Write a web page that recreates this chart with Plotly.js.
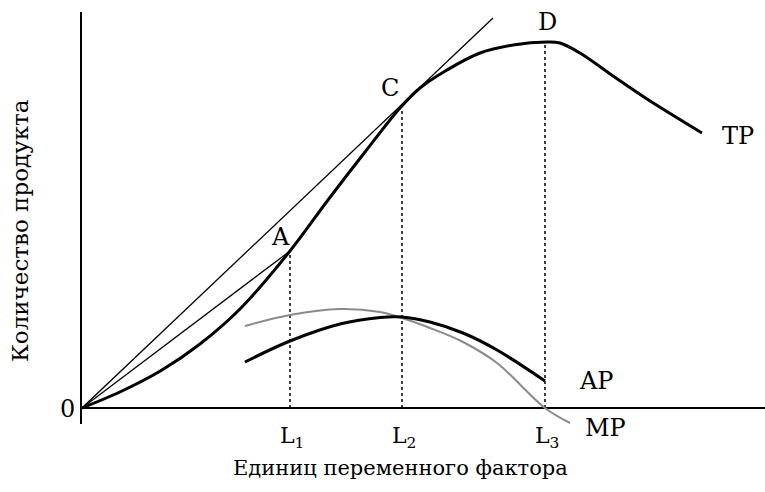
<!DOCTYPE html>
<html><head><meta charset="utf-8">
<script src="https://cdn.plot.ly/plotly-3.0.1.min.js"></script>
<style>body{margin:0;background:#fff}</style>
</head><body><div id="chart" style="width:765px;height:492px"></div>
<script>
// Total product (TP)
const tpX = [0, 40, 80, 118, 158, 208, 246, 283, 318, 338, 365, 398, 431, 465, 478, 498, 531, 565, 620];
const tpY = [0, 17, 38, 64, 99, 157, 208, 256, 300, 320, 338, 355, 363, 366, 365, 355, 332, 309, 275];
// Average product (AP)
const apX = [163, 208, 258, 298, 320, 348, 381, 415, 463];
const apY = [46, 67, 84, 90.5, 91, 86, 75, 58, 27];
// Marginal product (MP)
const mpX = [163, 208, 258, 298, 320, 348, 381, 415, 463, 488];
const mpY = [82, 93, 99, 96, 90, 80, 66, 45, 0, -15];
// Rays from origin
const rayAX = [0, 208], rayAY = [0, 157];
const tangX = [0, 411], tangY = [0, 390];
// Labour levels L1, L2, L3 and TP at those levels
const lX = [208, 320, 463];
const lTop = [157, 300, 366];
const lLabels = ['L<sub>1</sub>', 'L<sub>2</sub>', 'L<sub>3</sub>'];
const pointLabels = ['A', 'C', 'D'];
const curveLabels = ['TP', 'AP', 'MP'];

const XR = [0, 683], YR = [-16, 396];
const px = x => (x - XR[0]) / (XR[1] - XR[0]);
const py = y => (y - YR[0]) / (YR[1] - YR[0]);

const serif = 'DejaVu Serif, Liberation Serif, serif';
const traces = [];
lX.forEach((x, i) => traces.push({x: [x, x], y: [0, lTop[i]], mode: 'lines',
  line: {color: '#000', width: 1.5, dash: 'dot'}, hoverinfo: 'skip'}));
traces.push({x: tangX, y: tangY, mode: 'lines', line: {color: '#000', width: 1.3}});
traces.push({x: rayAX, y: rayAY, mode: 'lines', line: {color: '#000', width: 1.3}});
traces.push({x: mpX, y: mpY, mode: 'lines', line: {color: '#8a8a8a', width: 2, shape: 'spline'}});
traces.push({x: apX, y: apY, mode: 'lines', line: {color: '#000', width: 3, shape: 'spline'}});
traces.push({x: tpX, y: tpY, mode: 'lines', line: {color: '#000', width: 3, shape: 'spline'}});

const ann = [];
const f = {family: serif, size: 24, color: '#000'};
const lab = (x, y, t, extra) => ann.push(Object.assign({xref: 'paper', yref: 'paper', x: px(x), y: py(y),
  xanchor: 'center', yanchor: 'middle', text: t, showarrow: false, font: f}, extra || {}));
lab(198, 171, pointLabels[0]);
lab(308, 320, pointLabels[1]);
lab(465, 386, pointLabels[2]);
lab(656, 272, curveLabels[0]);
lab(514, 27, curveLabels[1]);
lab(523, -20, curveLabels[2]);
lab(-15, -1, '0');
lX.forEach((x, i) => lab(x + 2, -29, lLabels[i], {font: {family: serif, size: 22, color: '#000'}}));
lab(-62, 177, 'Количество продукта', {textangle: -90, font: {family: serif, size: 23, color: '#000'}});
lab(318, -60, 'Единиц переменного фактора', {font: {family: serif, size: 21, color: '#000'}});

Plotly.newPlot('chart', traces, {
  width: 765, height: 492, showlegend: false,
  margin: {l: 82, r: 0, t: 12, b: 68},
  paper_bgcolor: '#fff', plot_bgcolor: '#fff',
  xaxis: {range: XR, showgrid: false, showticklabels: false, ticks: '', zeroline: false, showline: false},
  yaxis: {range: YR, showgrid: false, showticklabels: false, ticks: '', zeroline: true,
    zerolinecolor: '#000', zerolinewidth: 2, showline: true, linecolor: '#000', linewidth: 2},
  annotations: ann
}, {displayModeBar: false, staticPlot: true});
</script></body></html>
